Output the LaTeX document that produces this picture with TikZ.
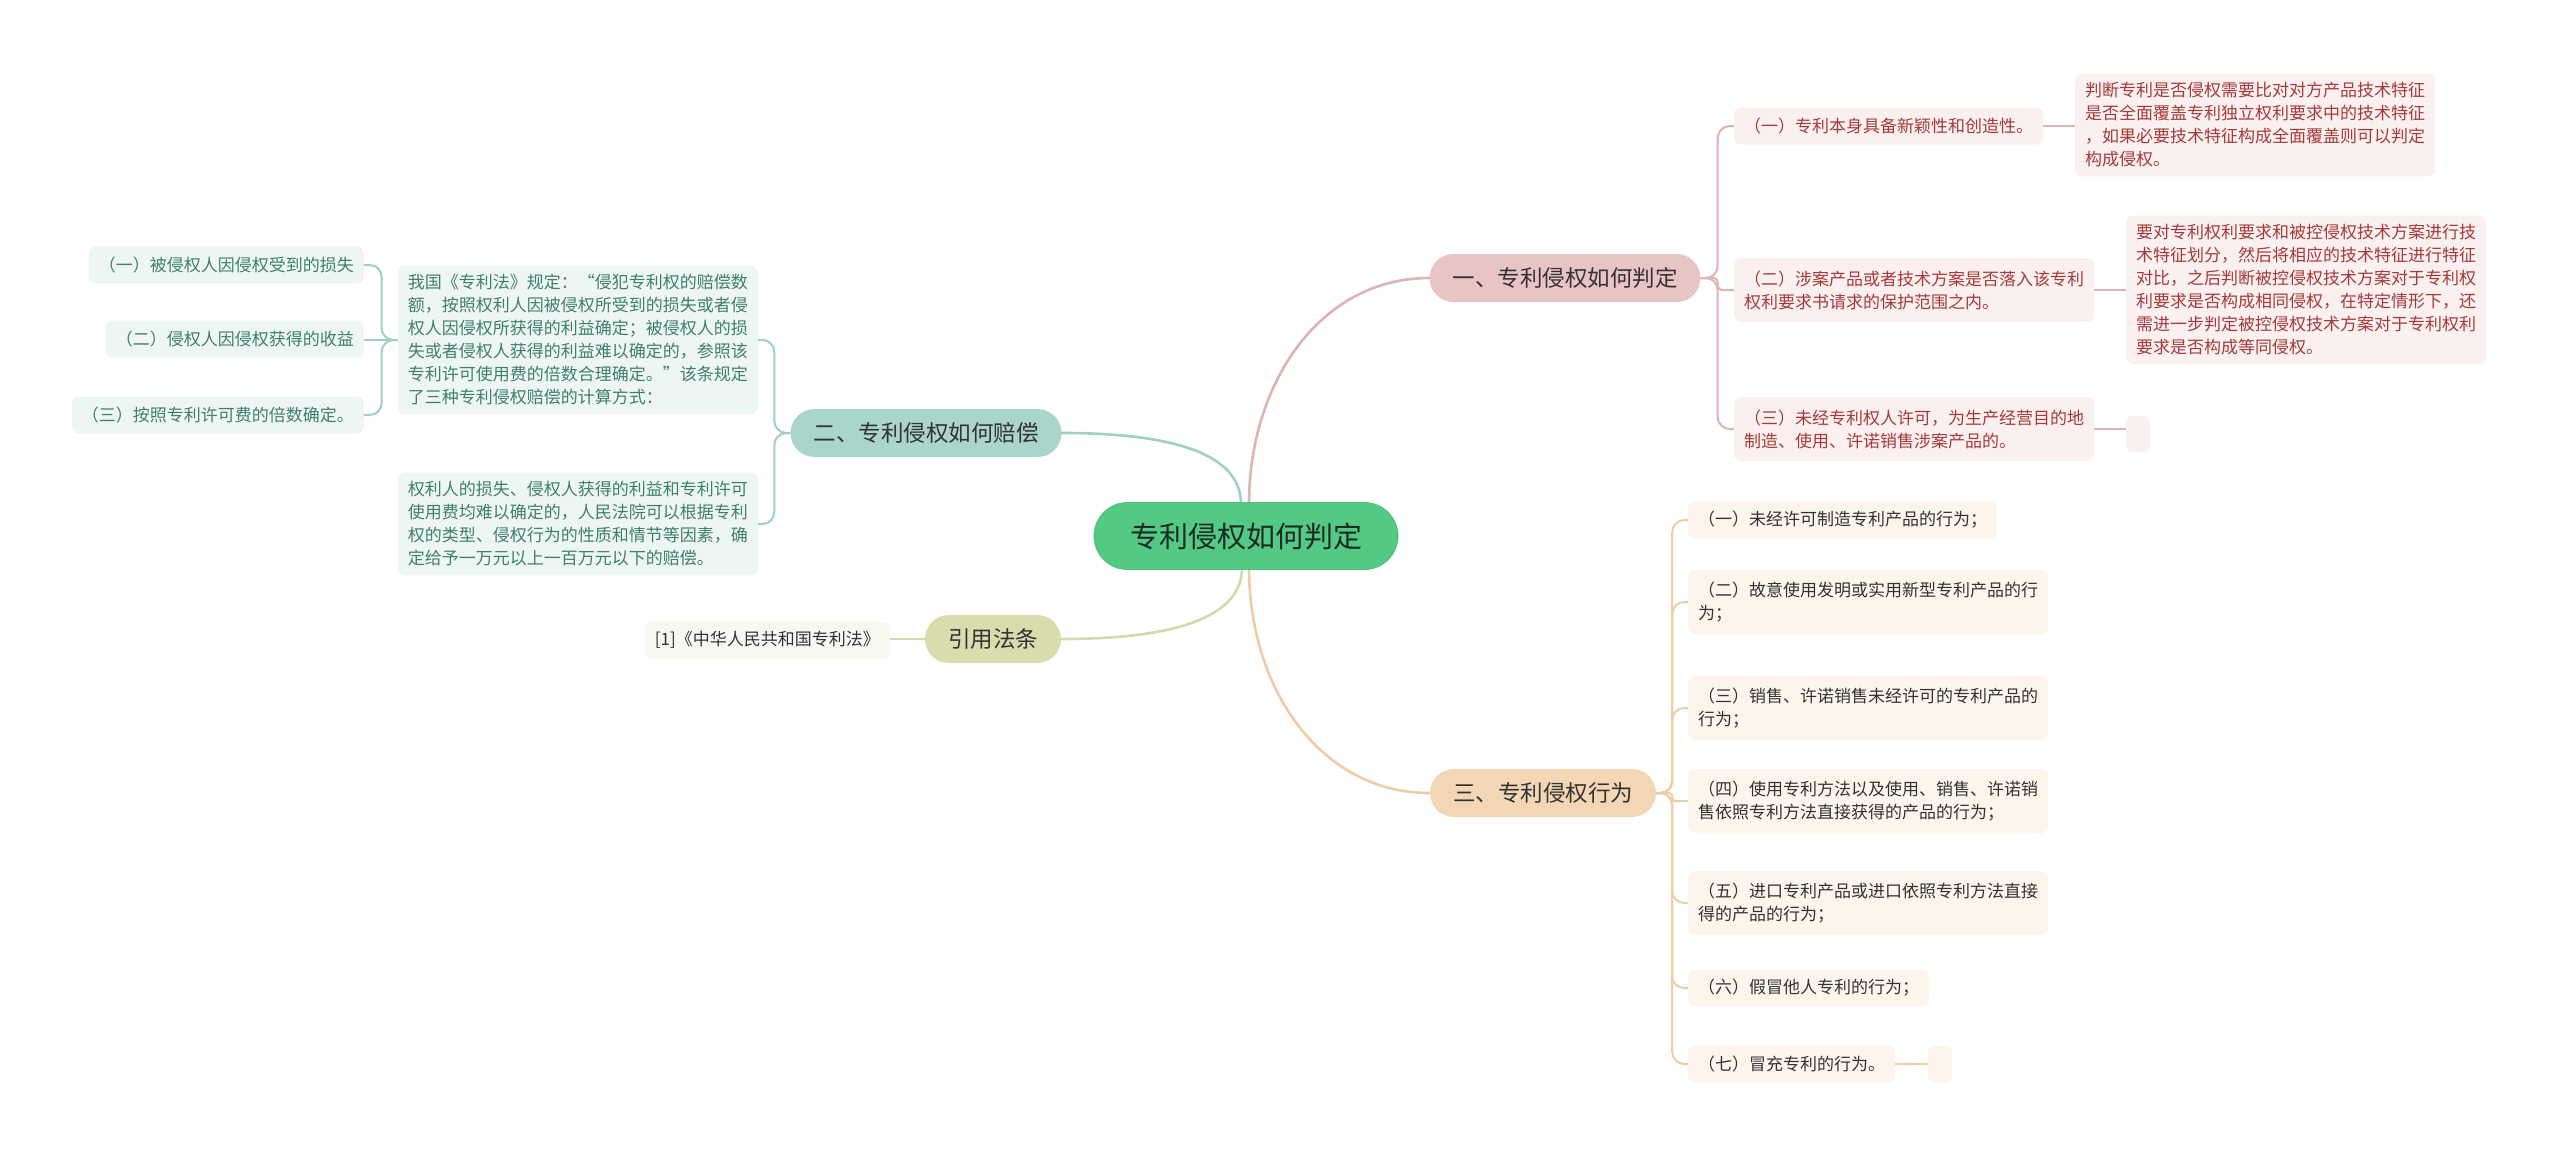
\documentclass[tikz,border=0pt]{standalone}
\usepackage{fontspec}
\newfontfamily\cjk{Noto Sans CJK SC}
\usetikzlibrary{calc,backgrounds}
\definecolor{cgreen}{HTML}{52C985}
\definecolor{cgreenD}{HTML}{4EC07F}
\definecolor{rootT}{HTML}{1D2B22}
\definecolor{pinkB}{HTML}{E8C4C4}
\definecolor{pinkL}{HTML}{DDB3B3}
\definecolor{pinkF}{HTML}{FAF0F0}
\definecolor{pinkT}{HTML}{A53A3A}
\definecolor{tealB}{HTML}{A9D5CB}
\definecolor{tealL}{HTML}{A0CFC4}
\definecolor{tealF}{HTML}{EEF6F4}
\definecolor{tealT}{HTML}{3F7F6E}
\definecolor{oliveB}{HTML}{D9DCAC}
\definecolor{oliveL}{HTML}{D6D9AC}
\definecolor{oliveF}{HTML}{F7F8F0}
\definecolor{orangeB}{HTML}{F3D6B4}
\definecolor{orangeL}{HTML}{EECDA6}
\definecolor{orangeF}{HTML}{FDF5EC}
\definecolor{darkT}{HTML}{333333}
\tikzset{
 txt/.style={font=\cjk\fontsize{17}{23}\selectfont},
 leafbox/.style={txt, align=left, inner xsep=10, inner ysep=9, rounded corners=7},
 one/.style={minimum height=37},
 two/.style={minimum height=64},
 pinkleaf/.style={leafbox, fill=pinkF, text=pinkT},
 tealleaf/.style={leafbox, fill=tealF, text=tealT},
 oliveleaf/.style={leafbox, fill=oliveF, text=darkT},
 orangeleaf/.style={leafbox, fill=orangeF, text=darkT},
 pill/.style={font=\cjk\fontsize{22.5}{26}\selectfont, text=darkT, inner xsep=23, inner ysep=0, minimum height=48, rounded corners=24},
 rootnode/.style={font=\cjk\fontsize{29}{32}\selectfont, text=rootT, fill=cgreen, draw=cgreenD, line width=0.8, inner xsep=36, inner ysep=0, minimum height=67, rounded corners=33.5},
 mline/.style={line width=2.6, line cap=round},
 lline/.style={line width=2},
 emptybox/.style={inner sep=0, minimum width=24, minimum height=36, rounded corners=6},
}
\begin{document}
\begin{tikzpicture}[x=1pt,y=-1pt]
\useasboundingbox (0,0) rectangle (2560,1157);
\begin{scope}[on background layer]
\fill[white] (0,0) rectangle (2560,1157);
\end{scope}

% root and main branches
\node[rootnode] (c) at (1246,536) {专利侵权如何判定};
\node[pill, fill=pinkB] (b1) at (1565,278) {一、专利侵权如何判定};
\node[pill, fill=tealB] (b2) at (926,433) {二、专利侵权如何赔偿};
\node[pill, fill=orangeB] (b3) at (1543,793) {三、专利侵权行为};
\node[pill, fill=oliveB] (b4) at (993,639) {引用法条};

% branch 1 leaves
\node[pinkleaf, one, anchor=west] (l1a) at (1734,126) {（一）专利本身具备新颖性和创造性。};
\node[pinkleaf, anchor=west] (d1a) at (2075,125) {判断专利是否侵权需要比对对方产品技术特征\\是否全面覆盖专利独立权利要求中的技术特征\\，如果必要技术特征构成全面覆盖则可以判定\\构成侵权。};
\node[pinkleaf, two, anchor=west] (l1b) at (1734,290) {（二）涉案产品或者技术方案是否落入该专利\\权利要求书请求的保护范围之内。};
\node[pinkleaf, anchor=west] (d1b) at (2126,290) {要对专利权利要求和被控侵权技术方案进行技\\术特征划分，然后将相应的技术特征进行特征\\对比，之后判断被控侵权技术方案对于专利权\\利要求是否构成相同侵权，在特定情形下，还\\需进一步判定被控侵权技术方案对于专利权利\\要求是否构成等同侵权。};
\node[pinkleaf, two, anchor=west] (l1c) at (1734,429) {（三）未经专利权人许可，为生产经营目的地\\制造、使用、许诺销售涉案产品的。};
\node[emptybox, fill=pinkF, anchor=west] (e1c) at (2126,434) {};

% branch 3 leaves
\node[orangeleaf, one, anchor=west] (l31) at (1688,520) {（一）未经许可制造专利产品的行为；};
\node[orangeleaf, two, anchor=west] (l32) at (1688,602) {（二）故意使用发明或实用新型专利产品的行\\为；};
\node[orangeleaf, two, anchor=west] (l33) at (1688,708) {（三）销售、许诺销售未经许可的专利产品的\\行为；};
\node[orangeleaf, two, anchor=west] (l34) at (1688,801) {（四）使用专利方法以及使用、销售、许诺销\\售依照专利方法直接获得的产品的行为；};
\node[orangeleaf, two, anchor=west] (l35) at (1688,903) {（五）进口专利产品或进口依照专利方法直接\\得的产品的行为；};
\node[orangeleaf, one, anchor=west] (l36) at (1688,988) {（六）假冒他人专利的行为；};
\node[orangeleaf, one, anchor=west] (l37) at (1688,1064) {（七）冒充专利的行为。};
\node[emptybox, fill=orangeF, anchor=west] (e37) at (1928,1064) {};

% branch 2 leaves
\node[tealleaf, anchor=east] (l2a) at (758,340) {我国《专利法》规定：“侵犯专利权的赔偿数\\额，按照权利人因被侵权所受到的损失或者侵\\权人因侵权所获得的利益确定；被侵权人的损\\失或者侵权人获得的利益难以确定的，参照该\\专利许可使用费的倍数合理确定。”该条规定\\了三种专利侵权赔偿的计算方式：};
\node[tealleaf, anchor=east] (l2b) at (758,524) {权利人的损失、侵权人获得的利益和专利许可\\使用费均难以确定的，人民法院可以根据专利\\权的类型、侵权行为的性质和情节等因素，确\\定给予一万元以上一百万元以下的赔偿。};
\node[tealleaf, one, anchor=east] (l2a1) at (364,265) {（一）被侵权人因侵权受到的损失};
\node[tealleaf, one, anchor=east] (l2a2) at (364,339) {（二）侵权人因侵权获得的收益};
\node[tealleaf, one, anchor=east] (l2a3) at (364,415) {（三）按照专利许可费的倍数确定。};

% branch 4 leaf
\node[oliveleaf, one, anchor=east] (l4a) at (890,640) {[1]《中华人民共和国专利法》};

% connectors
\begin{scope}[on background layer]
\coordinate (cn1) at ($(c.north)+(3,2)$);
\coordinate (cn2) at ($(c.north)+(-5,2)$);
\coordinate (cs1) at ($(c.south)+(-4,-2)$);
\coordinate (cs2) at ($(c.south)+(3,-2)$);
\draw[mline, pinkL] (cn1) .. controls +(0,-120) and +(-110,0) .. (b1.west);
\draw[mline, tealL] (cn2) .. controls +(0,-45) and +(125,0) .. (b2.east);
\draw[mline, oliveL] (cs1) .. controls +(0,45) and +(125,0) .. (b4.east);
\draw[mline, orangeL] (cs2) .. controls +(0,120) and +(-110,0) .. (b3.west);

% branch 1
\draw[lline, pinkL, rounded corners=12] (b1.east) -- ++(17,0) |- (l1a.west);
\draw[lline, pinkL, rounded corners=4] (b1.east) -- ++(17,0) |- (l1b.west);
\draw[lline, pinkL, rounded corners=12] (b1.east) -- ++(17,0) |- (l1c.west);
\draw[lline, pinkL] (l1a.east) -- (l1a.east -| d1a.west);
\draw[lline, pinkL] (l1b.east) -- (l1b.east -| d1b.west);
\draw[lline, pinkL] (l1c.east) -- (l1c.east -| e1c.west);

% branch 3
\draw[lline, orangeL, rounded corners=12] (b3.east) -- ++(16,0) |- (l31.west);
\draw[lline, orangeL, rounded corners=12] (b3.east) -- ++(16,0) |- (l32.west);
\draw[lline, orangeL, rounded corners=12] (b3.east) -- ++(16,0) |- (l33.west);
\draw[lline, orangeL, rounded corners=3] (b3.east) -- ++(16,0) |- (l34.west);
\draw[lline, orangeL, rounded corners=12] (b3.east) -- ++(16,0) |- (l35.west);
\draw[lline, orangeL, rounded corners=12] (b3.east) -- ++(16,0) |- (l36.west);
\draw[lline, orangeL, rounded corners=12] (b3.east) -- ++(16,0) |- (l37.west);
\draw[lline, orangeL] (l37.east) -- (l37.east -| e37.west);

% branch 2
\draw[lline, tealL, rounded corners=12] (b2.west) -- ++(-16,0) |- (l2a.east);
\draw[lline, tealL, rounded corners=12] (b2.west) -- ++(-16,0) |- (l2b.east);
\draw[lline, tealL, rounded corners=12] (l2a.west) -- ++(-16,0) |- (l2a1.east);
\draw[lline, tealL] (l2a.west) -- (l2a.west -| l2a2.east);
\draw[lline, tealL, rounded corners=12] (l2a.west) -- ++(-16,0) |- (l2a3.east);

% branch 4
\draw[lline, oliveL] (b4.west) -- (b4.west -| l4a.east);
\end{scope}
\end{tikzpicture}
\end{document}
